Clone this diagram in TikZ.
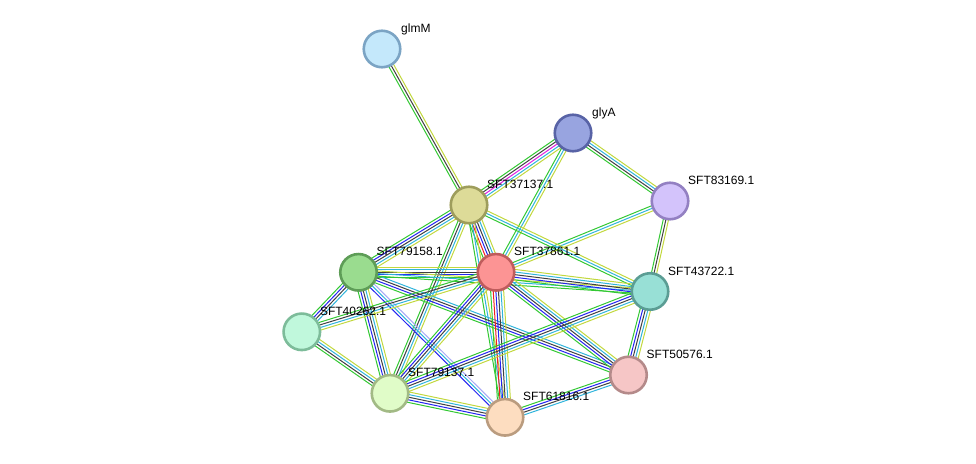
\documentclass[tikz,border=0pt]{standalone}
\usepackage{fontspec}
\setmainfont{Liberation Sans}
\usetikzlibrary{calc}
\definecolor{nb}{HTML}{33C833}
\definecolor{fu}{HTML}{F02020}
\definecolor{co}{HTML}{2424F0}
\definecolor{ce}{HTML}{404040}
\definecolor{ex}{HTML}{E020E0}
\definecolor{db}{HTML}{30B4DC}
\definecolor{tm}{HTML}{C2D83E}
\definecolor{ho}{HTML}{A8A8F4}
\pgfdeclarelayer{bg}
\pgfsetlayers{bg,main}
\newcommand\sedge[3]{%
  \gdef\myN{0}%
  \foreach \cc in {#3}{\xdef\myN{\the\numexpr\myN+1\relax}}%
  \foreach \cc [count=\ii] in {#3}{%
    \pgfmathsetmacro\myoff{(\ii-(\myN+1)/2)*2.6}%
    \draw[draw=\cc, edgeline] ($(#1)!\myoff pt!90:(#2)$) -- ($(#2)!\myoff pt!-90:(#1)$);%
  }%
}
\tikzset{
  edgeline/.style={line width=1.0pt},
  prot/.style={circle, minimum size=36.5pt, inner sep=0pt, line width=2.6pt},
  lbl/.style={anchor=base west, inner sep=0pt, font=\fontsize{12}{12}\selectfont, text=black}
}
\begin{document}
\begin{tikzpicture}[x=1pt,y=-1pt]
\useasboundingbox (0,0) rectangle (976,463);
% nodes
\node[prot, fill={rgb,255:red,196;green,232;blue,251}, draw={rgb,255:red,123;green,164;blue,196}] (glmM) at (382,49) {};
\node[prot, fill={rgb,255:red,152;green,164;blue,224}, draw={rgb,255:red,88;green,99;blue,166}] (glyA) at (573,133) {};
\node[prot, fill={rgb,255:red,211;green,195;blue,251}, draw={rgb,255:red,147;green,128;blue,194}] (s83169) at (670,201) {};
\node[prot, fill={rgb,255:red,221;green,219;blue,152}, draw={rgb,255:red,158;green,157;blue,92}] (s37137) at (469,205) {};
\node[prot, fill={rgb,255:red,154;green,220;blue,143}, draw={rgb,255:red,94;green,157;blue,87}] (s79158) at (358.5,272.3) {};
\node[prot, fill={rgb,255:red,252;green,148;blue,148}, draw={rgb,255:red,191;green,92;blue,92}] (s37861) at (496,272.3) {};
\node[prot, fill={rgb,255:red,152;green,224;blue,214}, draw={rgb,255:red,91;green,157;blue,148}] (s43722) at (650,291.5) {};
\node[prot, fill={rgb,255:red,192;green,248;blue,220}, draw={rgb,255:red,125;green,188;blue,154}] (s40262) at (301.8,331.8) {};
\node[prot, fill={rgb,255:red,246;green,198;blue,198}, draw={rgb,255:red,180;green,138;blue,138}] (s50576) at (628.5,375) {};
\node[prot, fill={rgb,255:red,224;green,252;blue,200}, draw={rgb,255:red,162;green,186;blue,133}] (s79137) at (390,393.3) {};
\node[prot, fill={rgb,255:red,253;green,221;blue,192}, draw={rgb,255:red,186;green,156;blue,127}] (s61816) at (505,417.3) {};
% labels
\node[lbl] (Lglmm) at ($(glmM)+(19,-16.5)$) {glmM};
\node[lbl] (Lglya) at ($(glyA)+(19,-16.5)$) {glyA};
\node[lbl] (L83169) at ($(s83169)+(18,-16.5)$) {SFT83169.1};
\node[lbl] (L37137) at ($(s37137)+(18,-16.5)$) {SFT37137.1};
\node[lbl] (L79158) at ($(s79158)+(18,-16.5)$) {SFT79158.1};
\node[lbl] (L37861) at ($(s37861)+(18,-16.5)$) {SFT37861.1};
\node[lbl] (L43722) at ($(s43722)+(18,-16.5)$) {SFT43722.1};
\node[lbl] (L40262) at ($(s40262)+(18,-16.5)$) {SFT40262.1};
\node[lbl] (L50576) at ($(s50576)+(18,-16.5)$) {SFT50576.1};
\node[lbl] (L79137) at ($(s79137)+(18,-16.5)$) {SFT79137.1};
\node[lbl] (L61816) at ($(s61816)+(18,-16.5)$) {SFT61816.1};
% edges
\begin{pgfonlayer}{bg}
\sedge{glmM}{s37137}{nb,ce,tm}
\sedge{glyA}{s37137}{nb,ce,ex,db,tm}
\sedge{glyA}{s37861}{nb,db,tm}
\sedge{glyA}{s83169}{nb,ce,db,tm}
\sedge{s83169}{s37861}{nb,db,tm}
\sedge{s83169}{s43722}{nb,ce,tm}
\sedge{s37137}{s37861}{nb,fu,co,ce,db,tm}
\sedge{s37137}{s79158}{nb,co,ce,db,tm}
\sedge{s37137}{s43722}{nb,db,tm}
\sedge{s37137}{s79137}{nb,ce,db,tm}
\sedge{s37137}{s61816}{nb,db,tm}
\sedge{s79158}{s37861}{nb,co,ce,db,tm}
\sedge{s79158}{s40262}{nb,co,ce,db}
\sedge{s79158}{s79137}{nb,co,ce,db,tm}
\sedge{s79158}{s61816}{co,db,ho}
\sedge{s79158}{s50576}{nb,co,ce,db}
\sedge{s79158}{s43722}{nb,db,tm}
\sedge{s37861}{s43722}{nb,co,ce,db,tm}
\sedge{s37861}{s50576}{nb,co,ce,db,tm}
\sedge{s37861}{s61816}{nb,fu,co,ce,db,tm}
\sedge{s37861}{s79137}{nb,co,ce,db,tm}
\sedge{s37861}{s40262}{nb,ce,db,tm}
\sedge{s43722}{s50576}{nb,co,ce,db,tm}
\sedge{s43722}{s79137}{nb,co,ce,db,tm}
\sedge{s50576}{s61816}{nb,co,ce,db}
\sedge{s79137}{s61816}{nb,co,ce,db,tm}
\sedge{s40262}{s79137}{nb,ce,db,tm}
\end{pgfonlayer}
\end{tikzpicture}
\end{document}
